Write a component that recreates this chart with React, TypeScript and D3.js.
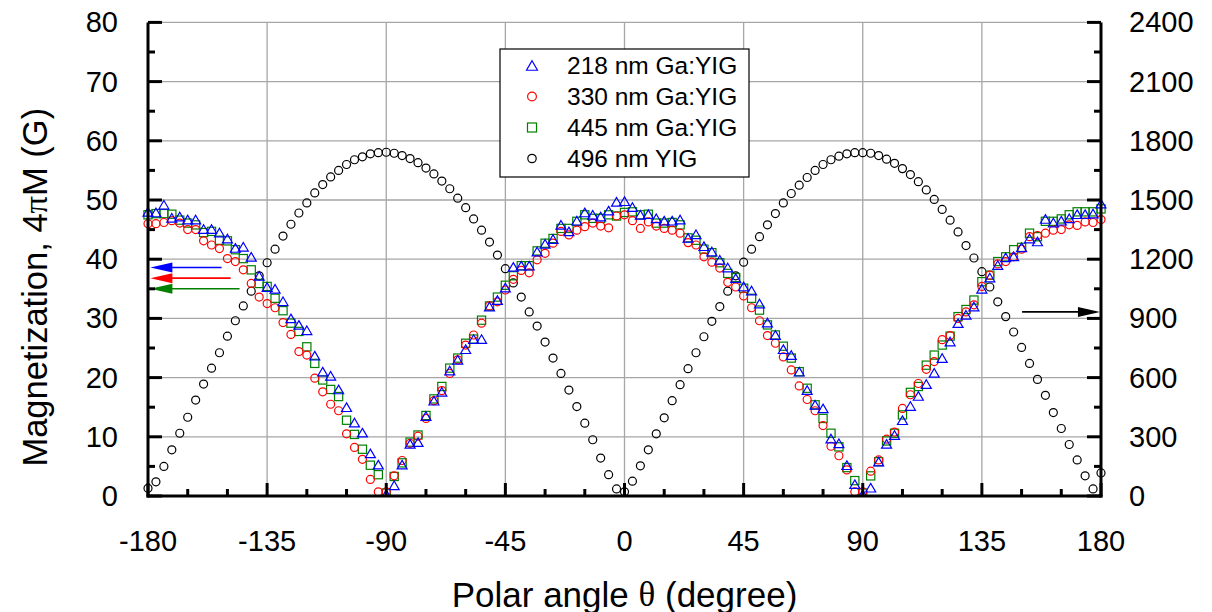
import React from "react";
import * as d3 from "d3";

const angles = [-180,-177,-174,-171,-168,-165,-162,-159,-156,-153,-150,-147,-144,-141,-138,-135,-132,-129,-126,-123,-120,-117,-114,-111,-108,-105,-102,-99,-96,-93,-90,-87,-84,-81,-78,-75,-72,-69,-66,-63,-60,-57,-54,-51,-48,-45,-42,-39,-36,-33,-30,-27,-24,-21,-18,-15,-12,-9,-6,-3,0,3,6,9,12,15,18,21,24,27,30,33,36,39,42,45,48,51,54,57,60,63,66,69,72,75,78,81,84,87,90,93,96,99,102,105,108,111,114,117,120,123,126,129,132,135,138,141,144,147,150,153,156,159,162,165,168,171,174,177,180];

// 218 nm Ga:YIG (left axis, G)
const s218 = [48.0,47.9,49.2,47.0,47.2,46.7,46.7,45.1,45.1,44.5,43.5,41.9,42.1,40.4,37.2,35.3,35.0,32.9,30.0,28.9,28.0,23.7,21.0,20.3,18.0,15.0,12.4,10.7,7.2,5.3,0.3,1.8,5.3,8.8,9.1,13.5,16.1,17.6,21.2,23.0,24.8,26.5,26.5,32.0,33.1,35.2,38.7,38.9,38.9,41.3,42.6,43.4,45.8,44.7,46.5,47.9,47.5,47.2,48.2,49.7,49.8,48.8,47.5,47.6,46.9,46.5,46.5,46.7,43.6,44.2,42.2,41.3,39.9,38.6,36.8,35.4,34.7,32.5,29.3,27.2,24.8,23.8,21.0,17.9,15.4,14.8,9.7,8.9,5.2,2.0,0.3,1.4,5.8,8.8,10.3,12.8,15.2,16.9,18.9,20.8,23.3,26.1,29.2,30.6,32.0,35.0,36.9,39.0,40.3,40.5,42.0,43.5,43.0,46.8,46.2,46.5,46.9,47.6,47.6,47.7,49.4];

// 330 nm Ga:YIG (left axis, G)
const s330 = [46.0,46.0,46.2,46.5,46.1,45.0,45.0,43.1,42.4,41.8,40.1,39.6,38.2,35.9,33.6,32.5,31.8,29.3,27.3,24.4,23.8,19.9,17.6,15.5,14.4,10.5,8.2,6.2,2.8,0.7,0.7,3.4,6.0,8.9,10.1,13.1,16.1,17.8,20.7,23.0,25.5,27.2,29.2,32.1,32.8,34.8,36.6,38.1,37.7,39.9,41.0,42.7,44.7,44.1,44.9,45.5,46.1,45.6,45.3,47.3,47.5,46.5,45.2,46.3,45.6,45.2,44.9,44.4,42.8,42.4,40.4,39.5,38.5,36.1,35.3,33.8,31.8,29.6,27.1,25.8,23.5,21.3,18.6,16.3,14.4,11.9,8.4,6.8,4.4,0.7,0.7,4.2,6.1,9.6,10.8,14.8,17.1,19.0,21.4,22.7,26.4,27.1,30.0,31.1,32.3,35.4,37.3,39.2,39.6,40.4,41.7,43.8,44.0,44.4,44.9,45.0,45.8,45.7,46.3,46.2,46.7];

// 445 nm Ga:YIG (left axis, G)
const s445 = [47.5,47.7,47.7,47.6,46.6,46.1,45.8,44.5,44.7,43.2,43.1,41.6,40.1,38.2,35.9,35.4,33.4,31.3,29.2,27.8,25.2,22.4,19.6,18.0,16.8,12.8,10.4,7.9,5.2,3.6,0.5,3.3,5.6,9.1,10.3,13.6,16.4,18.5,21.6,23.3,25.8,26.5,29.7,32.1,33.6,35.6,37.2,38.9,38.9,41.4,42.7,43.5,45.2,45.2,46.4,47.5,46.9,46.9,47.5,47.3,47.9,48.0,47.5,47.6,46.1,46.1,46.2,45.8,43.6,43.2,41.7,41.1,39.4,37.6,36.9,35.1,33.4,31.4,28.9,27.2,25.3,23.3,21.0,18.2,15.4,13.1,10.6,8.3,4.8,2.6,0.5,3.4,5.8,9.3,10.6,13.7,17.5,18.5,22.1,23.8,25.5,27.0,30.3,31.5,33.1,36.2,37.3,39.6,40.4,41.6,42.0,44.4,43.8,46.4,46.4,46.8,47.5,48.0,48.0,48.0,48.5];

// 496 nm YIG (right axis, G)
const s496 = [39,72,150,234,318,399,486,567,648,726,810,888,963,1038,1116,1182,1251,1317,1377,1434,1485,1536,1578,1617,1650,1680,1704,1719,1734,1740,1742,1737,1725,1710,1689,1662,1632,1596,1557,1509,1461,1404,1347,1287,1221,1152,1080,1008,933,861,780,699,621,537,453,369,285,192,108,36,21,75,153,234,315,396,483,564,645,726,807,885,960,1038,1116,1185,1251,1314,1374,1431,1485,1533,1575,1614,1650,1680,1704,1722,1734,1740,1740,1737,1725,1707,1686,1659,1629,1593,1551,1503,1452,1398,1338,1269,1206,1137,1059,984,909,831,753,672,591,510,423,342,261,183,102,36,117];

const xTicks = [-180,-135,-90,-45,0,45,90,135,180];
const xMinor = [-165,-150,-120,-105,-75,-60,-30,-15,15,30,60,75,105,120,150,165];
const yLeftTicks = [0,10,20,30,40,50,60,70,80];
const yLeftMinor = [5,15,25,35,45,55,65,75];
const yRightTicks = [0,300,600,900,1200,1500,1800,2100,2400];
const yRightMinor = [150,450,750,1050,1350,1650,1950,2250];

const legendLabels = ["218 nm Ga:YIG","330 nm Ga:YIG","445 nm Ga:YIG","496 nm YIG"];

// arrows: [fromAngle, toAngle, value(left units)]
const leftArrows = [
  { from: -152.2, to: -179.1, v: 38.6, color: "#0000ff" },
  { from: -148.8, to: -179.1, v: 36.8, color: "#ff0000" },
  { from: -145.4, to: -179.1, v: 35.0, color: "#008000" },
];
const rightArrow = { from: 150.2, to: 179.6, v: 933, color: "#000000" };

const FONT = "'Liberation Sans', Arial, Helvetica, sans-serif";
const GREEK = "'Liberation Serif', 'DejaVu Serif', serif";

const L = 148, R = 1101, T = 22.4, B = 496;

function Triangle({ cx, cy, color, k = 1 }: { cx: number; cy: number; color: string; k?: number }) {
  const w = 10 * k, h = 8.6 * k;
  return <path d={`M${cx},${cy - h / 2}L${cx + w / 2},${cy + h / 2}L${cx - w / 2},${cy + h / 2}Z`} fill="none" stroke={color} strokeWidth={1.2} />;
}
function Square({ cx, cy, color, k = 1 }: { cx: number; cy: number; color: string; k?: number }) {
  const s = 8.2 * k;
  return <rect x={cx - s / 2} y={cy - s / 2} width={s} height={s} fill="none" stroke={color} strokeWidth={1.2} />;
}
function Circle({ cx, cy, color, k = 1 }: { cx: number; cy: number; color: string; k?: number }) {
  return <circle cx={cx} cy={cy} r={4.0 * k} fill="none" stroke={color} strokeWidth={1.2} />;
}

export default function App() {
  const x = d3.scaleLinear().domain([-180, 180]).range([L, R]);
  const yL = d3.scaleLinear().domain([0, 80]).range([B, T]);
  const yR = d3.scaleLinear().domain([0, 2400]).range([B, T]);

  const arrowHead = (tipX: number, y: number, dir: number, len: number, half: number) =>
    `M${tipX},${y}L${tipX + dir * len},${y - half}L${tipX + dir * len},${y + half}Z`;

  return (
    <svg width={1212} height={612} style={{ position: "absolute", left: 0, top: 0, background: "#fff" }} fontFamily={FONT}>
      <defs>
        <clipPath id="plotclip">
          <rect x={L - 6} y={T - 6} width={R - L + 12} height={B - T + 6} />
        </clipPath>
      </defs>
      {/* grid */}
      {xTicks.map((t) => (
        <line key={"gx" + t} x1={x(t)} x2={x(t)} y1={T} y2={B} stroke="#a6a6a6" strokeWidth={1.3} />
      ))}
      {yLeftTicks.map((t) => (
        <line key={"gy" + t} x1={L} x2={R} y1={yL(t)} y2={yL(t)} stroke="#a6a6a6" strokeWidth={1.3} />
      ))}

      {/* data */}
      <g clipPath="url(#plotclip)">
        {angles.map((a, i) => (
          <Circle key={"k" + i} cx={x(a)} cy={yR(s496[i])} color="#000000" />
        ))}
        {angles.map((a, i) => (
          <Square key={"g" + i} cx={x(a)} cy={yL(s445[i])} color="#008000" />
        ))}
        {angles.map((a, i) => (
          <Circle key={"r" + i} cx={x(a)} cy={yL(s330[i])} color="#ff0000" />
        ))}
        {angles.map((a, i) => (
          <Triangle key={"b" + i} cx={x(a)} cy={yL(s218[i])} color="#0000ff" />
        ))}
      </g>

      {/* arrows */}
      {leftArrows.map((ar, i) => (
        <g key={"la" + i}>
          <line x1={x(ar.from)} x2={x(ar.to) + 18} y1={yL(ar.v)} y2={yL(ar.v)} stroke={ar.color} strokeWidth={1.6} />
          <path d={arrowHead(x(ar.to), yL(ar.v), 1, 22, 5)} fill={ar.color} />
        </g>
      ))}
      <line x1={x(rightArrow.from)} x2={x(rightArrow.to) - 18} y1={yR(rightArrow.v)} y2={yR(rightArrow.v)} stroke={rightArrow.color} strokeWidth={1.6} />
      <path d={arrowHead(x(rightArrow.to), yR(rightArrow.v), -1, 22, 5)} fill={rightArrow.color} />

      {/* axes frame */}
      <line x1={L} x2={L} y1={T} y2={B + 1.5} stroke="#000" strokeWidth={3} />
      <line x1={R} x2={R} y1={T} y2={B + 1.5} stroke="#000" strokeWidth={3} />
      <line x1={L - 1.5} x2={R + 1.5} y1={B} y2={B} stroke="#000" strokeWidth={3} />

      {/* ticks */}
      {xTicks.map((t) => (
        <line key={"xt" + t} x1={x(t)} x2={x(t)} y1={B} y2={B - 13} stroke="#000" strokeWidth={3} />
      ))}
      {xMinor.map((t) => (
        <line key={"xm" + t} x1={x(t)} x2={x(t)} y1={B} y2={B - 7} stroke="#000" strokeWidth={3} />
      ))}
      {yLeftTicks.map((t) => (
        <line key={"ylt" + t} x1={L} x2={L + 14} y1={yL(t)} y2={yL(t)} stroke="#000" strokeWidth={3} />
      ))}
      {yLeftMinor.map((t) => (
        <line key={"ylm" + t} x1={L} x2={L + 7} y1={yL(t)} y2={yL(t)} stroke="#000" strokeWidth={3} />
      ))}
      {yRightTicks.map((t) => (
        <line key={"yrt" + t} x1={R} x2={R - 14} y1={yR(t)} y2={yR(t)} stroke="#000" strokeWidth={3} />
      ))}
      {yRightMinor.map((t) => (
        <line key={"yrm" + t} x1={R} x2={R - 7} y1={yR(t)} y2={yR(t)} stroke="#000" strokeWidth={3} />
      ))}

      {/* tick labels */}
      {xTicks.map((t) => (
        <text key={"xl" + t} x={x(t)} y={541} textAnchor="middle" dominantBaseline="central" fontSize={29} fill="#000">{t}</text>
      ))}
      {yLeftTicks.map((t) => (
        <text key={"yll" + t} x={118} y={yL(t)} textAnchor="end" dominantBaseline="central" fontSize={29} fill="#000">{t}</text>
      ))}
      {yRightTicks.map((t) => (
        <text key={"yrl" + t} x={1129} y={yR(t)} textAnchor="start" dominantBaseline="central" fontSize={29} fill="#000">{t}</text>
      ))}

      {/* axis titles */}
      <text x={x(0)} y={594} textAnchor="middle" dominantBaseline="central" fontSize={35} fill="#000">
        Polar angle <tspan fontFamily={GREEK}>θ</tspan> (degree)
      </text>
      <text transform={`translate(35,${(T + B) / 2 + 28}) rotate(-90)`} textAnchor="middle" dominantBaseline="central" fontSize={34.5} fill="#000">
        Magnetization, 4<tspan fontFamily={GREEK}>π</tspan>M (G)
      </text>

      {/* legend */}
      <rect x={500} y={49} width={249} height={128} fill="#fff" stroke="#000" strokeWidth={1.2} />
      {legendLabels.map((lab, i) => {
        const cy = 65.5 + i * 31;
        const colors = ["#0000ff", "#ff0000", "#008000", "#000000"];
        return (
          <g key={"lg" + i}>
            {i === 0 && <Triangle cx={532} cy={cy} color={colors[i]} k={1.1} />}
            {i === 1 && <Circle cx={532} cy={cy} color={colors[i]} k={1.1} />}
            {i === 2 && <Square cx={532} cy={cy} color={colors[i]} k={1.1} />}
            {i === 3 && <Circle cx={532} cy={cy} color={colors[i]} k={1.05} />}
            <text x={567} y={cy} dominantBaseline="central" fontSize={24.5} fill="#000">{lab}</text>
          </g>
        );
      })}
    </svg>
  );
}
